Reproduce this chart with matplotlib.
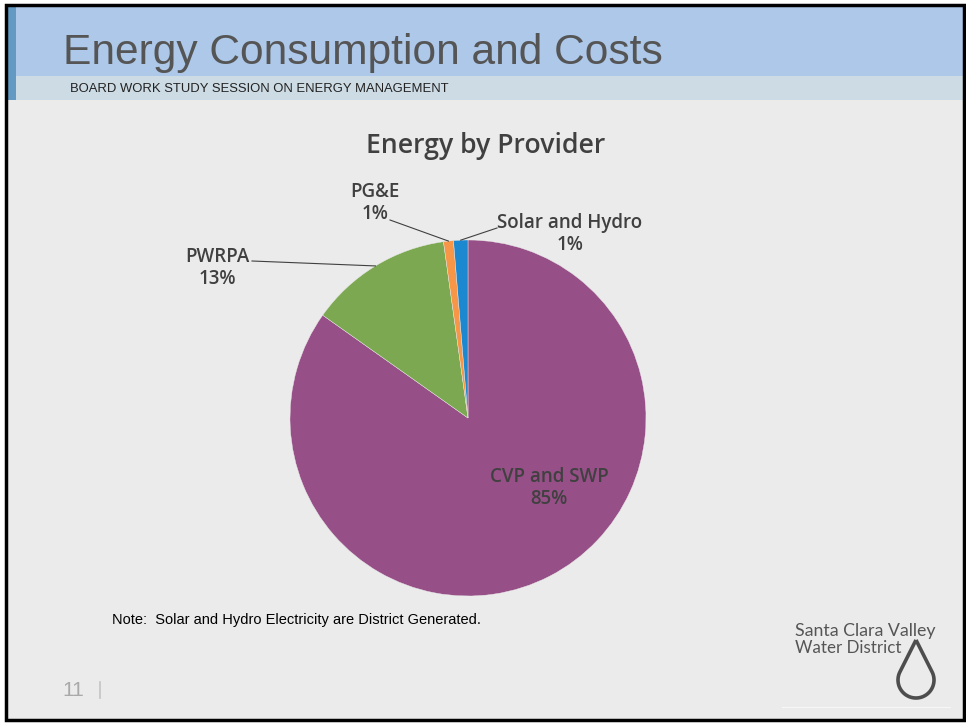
import matplotlib.pyplot as plt
import numpy as np
from matplotlib.patches import Rectangle, PathPatch
from matplotlib.path import Path

W, H = 966, 723

providers = ["CVP and SWP", "PWRPA", "PG&E", "Solar and Hydro"]
shares = [84.8, 13.0, 0.9, 1.3]
pct_labels = ["85%", "13%", "1%", "1%"]
colors = ["#964f87", "#7ba850", "#f79646", "#1c88d0"]

chart_title = "Energy by Provider"
slide_title = "Energy Consumption and Costs"
slide_subtitle = "BOARD WORK STUDY SESSION ON ENERGY MANAGEMENT"
note = "Note:  Solar and Hydro Electricity are District Generated."

# label anchor points in slide pixels
label_pos = [(549, 488), (217, 268), (375, 203), (570, 234)]
# where the leader line leaves the label (None = label inside the slice)
leader_start = [None, (252, 261), (390, 220), (497, 228)]

fig = plt.figure(figsize=(W / 100, H / 100), dpi=100)
fig.patch.set_facecolor("white")

bg = fig.add_axes([0, 0, 1, 1])
bg.set_xlim(0, W)
bg.set_ylim(H, 0)
bg.axis("off")

# slide body, header bands, border
bg.add_patch(Rectangle((6, 5), 957, 714, facecolor="#ebebeb", edgecolor="none"))
bg.add_patch(Rectangle((6, 5), 957, 71, facecolor="#adc8e9", edgecolor="none"))
bg.add_patch(Rectangle((6, 76), 957, 24, facecolor="#cddbe4", edgecolor="none"))
bg.add_patch(Rectangle((6, 5), 10, 95, facecolor="#6399c2", edgecolor="none"))
bg.add_patch(Rectangle((5.5, 4.5), 958, 715, facecolor="none", edgecolor="black", linewidth=2.5))

bg.text(63, 53, slide_title, fontsize=30.6, color="#555555", family="Liberation Sans",
        va="center", ha="left")
bg.text(70, 89, slide_subtitle, fontsize=9.4, color="#222222", family="Liberation Sans",
        va="center", ha="left")
bg.text(112, 620, note, fontsize=10.5, color="black", family="Liberation Sans",
        va="center", ha="left")
bg.text(62, 690, "11", fontsize=15, color="#a9a9a9", family="Liberation Sans",
        va="center", ha="left")
bg.plot([100, 100], [682, 698], color="#c4c4c4", linewidth=1.2)

bg.text(486, 146, chart_title, fontsize=19.2, fontweight="semibold", color="#404040",
        family="Open Sans", ha="center", va="center")

# logo
bg.text(795, 631, "Santa Clara Valley", fontsize=12.8, color="#555555", family="Lato",
        ha="left", va="center")
bg.text(795, 648, "Water District", fontsize=12.2, color="#555555", family="Lato",
        ha="left", va="center")
cx, cy, r, tip = 916, 680, 18, 640
alpha = np.degrees(np.arccos(r / (cy - tip)))
theta = np.radians(np.linspace(-90 + alpha, 270 - alpha, 80))
pts = [(cx, tip)] + [(cx + r * np.cos(t), cy + r * np.sin(t)) for t in theta] + [(cx, tip)]
bg.add_patch(PathPatch(Path(pts), facecolor="none", edgecolor="#4d4d4d", linewidth=2.6,
                       joinstyle="miter"))
bg.plot([782, 950], [707, 707], color="#f7f7f7", linewidth=0.8)

# pie: centre (468, 418), radius 178 px
pc_x, pc_y, pr = 468, 418, 178
ax = fig.add_axes([(pc_x - pr) / W, (H - pc_y - pr) / H, 2 * pr / W, 2 * pr / H])
wedges, _ = ax.pie(shares, colors=colors, startangle=90, counterclock=False,
                   wedgeprops={"linewidth": 0.3, "edgecolor": "#ebebeb"})
ax.set_xlim(-1, 1)
ax.set_ylim(-1, 1)
ax.set_aspect("equal")


def to_data(px, py):
    return (px - pc_x) / pr, (pc_y - py) / pr


for w, name, pct, pos, start in zip(wedges, providers, pct_labels, label_pos, leader_start):
    tx, ty = to_data(*pos)
    ax.text(tx, ty, f"{name}\n{pct}", ha="center", va="center", fontsize=13.5,
            fontweight="semibold", color="#404040", family="Open Sans", linespacing=1.1)
    if start is None:
        continue
    mid = np.radians((w.theta1 + w.theta2) / 2)
    ex, ey = np.cos(mid), np.sin(mid)
    sx, sy = to_data(*start)
    ax.plot([sx, ex], [sy, ey], color="#404040", linewidth=0.8, clip_on=False)

fig.savefig("out.png", dpi=100)
